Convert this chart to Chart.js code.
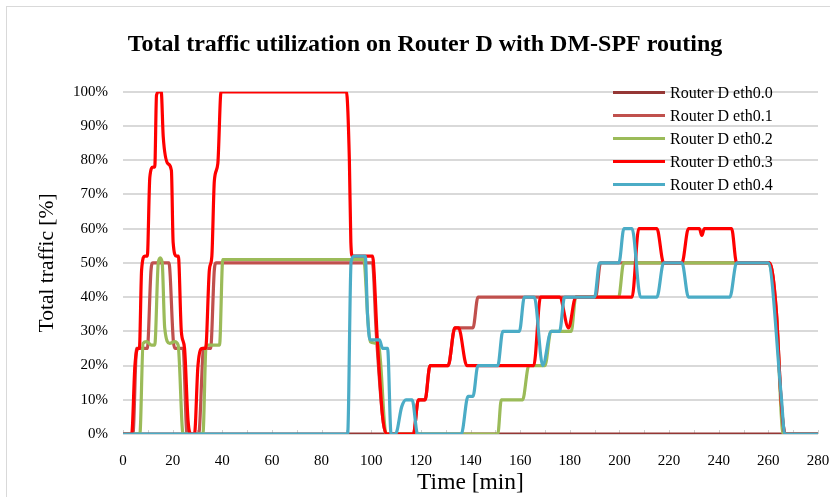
<!DOCTYPE html>
<html>
<head>
<meta charset="utf-8">
<title>Router D traffic</title>
<script src="https://cdn.jsdelivr.net/npm/chart.js@4.4.1/dist/chart.umd.min.js"></script>
<style>
  html, body { margin: 0; padding: 0; background: #fff; }
</style>
</head>
<body>
<canvas id="trafficChart" width="830" height="497"></canvas>
<script>
// series labels and colours
const seriesNames = ['Router D eth0.0', 'Router D eth0.1', 'Router D eth0.2', 'Router D eth0.3', 'Router D eth0.4'];
const seriesColors = ['#953735', '#C0504D', '#9BBB59', '#FF0000', '#4BACC6'];

// [time (min), utilization (%)] per interface
const eth00 = [[0, 0], [280, 0]];

const eth01 = [
  [0, 0], [4, 0], [5.5, 25], [9.8, 25], [11.3, 48], [12, 50], [18.5, 50], [20.3, 27], [21, 25],
  [24.2, 25], [25.8, 0], [30.5, 0], [32.5, 25], [35.3, 25], [36.8, 48], [37.5, 50], [100.5, 50],
  [102, 30], [104.6, 5], [106, 0], [117, 0], [119, 10], [121.7, 10], [123.7, 20], [131, 20],
  [133.7, 31], [141, 31], [143, 40], [190.4, 40], [192.4, 50], [260.5, 50], [263.2, 36],
  [265.2, 9], [266.8, 0], [280, 0]
];

const eth02 = [
  [0, 0], [6.8, 0], [8.1, 26.5], [9.5, 27], [11.5, 26], [12.8, 26], [14.2, 50], [15, 51.5],
  [15.8, 50], [16.8, 31], [18.8, 26.5], [20.8, 27], [22.2, 26], [24.2, 0], [32.2, 0], [33.5, 26],
  [38.9, 26], [40.2, 51], [97, 51], [98.7, 33], [99.6, 27], [103, 26], [106, 0], [151, 0],
  [152.4, 10], [161, 10], [163.5, 20], [170, 20], [172.4, 30], [180.6, 30], [182.4, 40],
  [199.7, 40], [201.7, 50], [260, 50], [263.2, 35], [266, 0], [280, 0]
];

const eth03 = [
  [0, 0], [3.5, 0], [4.8, 20], [6.1, 25], [6.6, 25], [7.5, 48], [8.8, 52], [9.8, 52], [10.8, 75],
  [12.1, 78], [12.8, 78], [13.5, 99], [14.5, 100], [15.4, 100], [16.2, 87], [18.1, 79], [19.5, 77],
  [20.2, 56], [21.5, 52], [22.3, 52], [23.5, 30], [24.8, 25], [26.2, 4], [27.5, 0], [28.8, 0],
  [30.2, 20], [32, 25], [33.3, 25], [34.8, 48], [35.8, 52], [36.8, 74], [38.2, 79], [39.5, 100],
  [90, 100], [91.2, 80], [91.8, 56], [92.4, 52], [100.5, 52], [102.5, 27], [104.6, 5], [106.2, 0],
  [117, 0], [119, 10], [121.7, 10], [123.7, 20], [131, 20], [133.7, 31], [135.2, 31], [138.5, 20],
  [165.5, 20], [168.2, 40], [175.9, 40], [179.5, 31], [182.4, 40], [205.1, 40], [207.8, 60],
  [215.1, 60], [217.8, 50], [225.2, 50], [227.8, 60], [232.2, 60], [233.2, 58], [234.2, 60],
  [245.2, 60], [247.2, 50], [260.5, 50], [263.2, 36], [265.2, 9], [266.8, 0], [280, 0]
];

const eth04 = [
  [0, 0], [90.5, 0], [91.9, 50.4], [93.2, 52], [97.6, 52], [98.5, 35], [99.5, 27.5], [103.3, 27.5],
  [104.6, 25], [106.6, 25], [108, 0], [109.8, 0], [112.3, 8], [114, 10], [116.5, 10], [118.7, 0],
  [136.3, 0], [139, 11], [141, 11], [143, 20], [151, 20], [153, 30], [159.7, 30], [161.7, 40],
  [165.7, 40], [169.1, 20], [172.5, 30], [175.9, 30], [177.9, 40], [190, 40], [192, 50],
  [199.8, 50], [201.8, 60], [205.1, 60], [208.5, 40], [215.1, 40], [217.8, 50], [225.2, 50],
  [227.8, 40], [244.5, 40], [247.2, 50], [259.9, 50], [265.2, 11], [266.6, 0], [280, 0]
];

const seriesData = [eth00, eth01, eth02, eth03, eth04];

// axis ranges / ticks
const xMin = 0, xMax = 280, xStep = 10, xLabelStep = 20;
const yMin = 0, yMax = 100, yStep = 10;

const serif = "'Liberation Serif', 'Times New Roman', serif";

// light grey frame round the whole chart
const framePlugin = {
  id: 'frame',
  beforeDraw(chart) {
    const ctx = chart.ctx;
    ctx.save();
    ctx.fillStyle = '#fff';
    ctx.fillRect(0, 0, chart.width, chart.height);
    ctx.strokeStyle = '#d9d9d9';
    ctx.lineWidth = 1;
    ctx.strokeRect(6.5, 6.5, chart.width + 20, chart.height + 20);
    ctx.restore();
  }
};

// small inward tick marks on the time axis
const minorTicksPlugin = {
  id: 'minorTicks',
  beforeDatasetsDraw(chart) {
    const x = chart.scales.x, y = chart.scales.y;
    const ctx = chart.ctx;
    const base = y.getPixelForValue(0);
    ctx.save();
    ctx.strokeStyle = '#d0d0d0';
    ctx.lineWidth = 1;
    for (let v = xMin; v <= xMax; v += xStep) {
      const px = Math.round(x.getPixelForValue(v)) + 0.5;
      ctx.beginPath();
      ctx.moveTo(px, base);
      ctx.lineTo(px, base - 4);
      ctx.stroke();
    }
    ctx.restore();
  }
};

// legend inside the plot, top right
const legendPlugin = {
  id: 'insideLegend',
  afterDraw(chart) {
    const ctx = chart.ctx;
    const x0 = 613, x1 = 665, top = 92.5, gap = 23;
    ctx.save();
    ctx.font = '16px ' + serif;
    ctx.textBaseline = 'middle';
    chart.data.datasets.forEach((ds, i) => {
      const yy = top + i * gap;
      ctx.strokeStyle = ds.borderColor;
      ctx.lineWidth = 3;
      ctx.beginPath();
      ctx.moveTo(x0, yy);
      ctx.lineTo(x1, yy);
      ctx.stroke();
      ctx.fillStyle = '#000';
      ctx.fillText(ds.label, x1 + 5, yy + 1);
    });
    ctx.restore();
  }
};

const datasets = seriesNames.map((name, i) => ({
  label: name,
  data: seriesData[i].map(([t, v]) => ({ x: t, y: v })),
  borderColor: seriesColors[i],
  backgroundColor: seriesColors[i],
  borderWidth: 3.2,
  pointRadius: 0,
  fill: false,
  cubicInterpolationMode: 'monotone',
  order: seriesNames.length - i   // last interface drawn on top
}));

new Chart(document.getElementById('trafficChart'), {
  type: 'line',
  data: { datasets },
  options: {
    responsive: false,
    animation: false,
    layout: { padding: { left: 20, right: 0, top: 0, bottom: 0 } },
    plugins: {
      legend: { display: false },
      tooltip: { enabled: false },
      title: {
        display: true,
        text: 'Total traffic utilization on Router D with DM-SPF routing',
        color: '#000',
        font: { family: serif, size: 24, weight: 'bold', lineHeight: 1.2 },
        padding: { top: 30, bottom: 33 }
      }
    },
    scales: {
      x: {
        type: 'linear',
        min: xMin,
        max: xMax,
        afterFit: s => { s.height = 63; s.paddingRight = 12; },
        grid: { display: false },
        border: { display: false },
        ticks: {
          stepSize: xStep,
          autoSkip: false,
          maxRotation: 0,
          padding: 10,
          color: '#000',
          font: { family: serif, size: 15 },
          callback: v => (v % xLabelStep === 0 ? v : '')
        },
        title: {
          display: true,
          text: 'Time [min]',
          color: '#000',
          font: { family: serif, size: 23.5, lineHeight: 1.2 },
          padding: { top: 0, bottom: 0 }
        }
      },
      y: {
        min: yMin,
        max: yMax,
        afterFit: s => { s.width = 103; },
        grid: { color: '#d9d9d9', lineWidth: 2, drawTicks: false },
        border: { display: false },
        ticks: {
          stepSize: yStep,
          padding: 15,
          color: '#000',
          font: { family: serif, size: 15 },
          callback: v => v + '%'
        },
        title: {
          display: true,
          text: 'Total traffic [%]',
          color: '#000',
          font: { family: serif, size: 21.5, lineHeight: 1.2 },
          padding: { top: 14, bottom: 0 }
        }
      }
    }
  },
  plugins: [framePlugin, minorTicksPlugin, legendPlugin]
});
</script>
</body>
</html>
